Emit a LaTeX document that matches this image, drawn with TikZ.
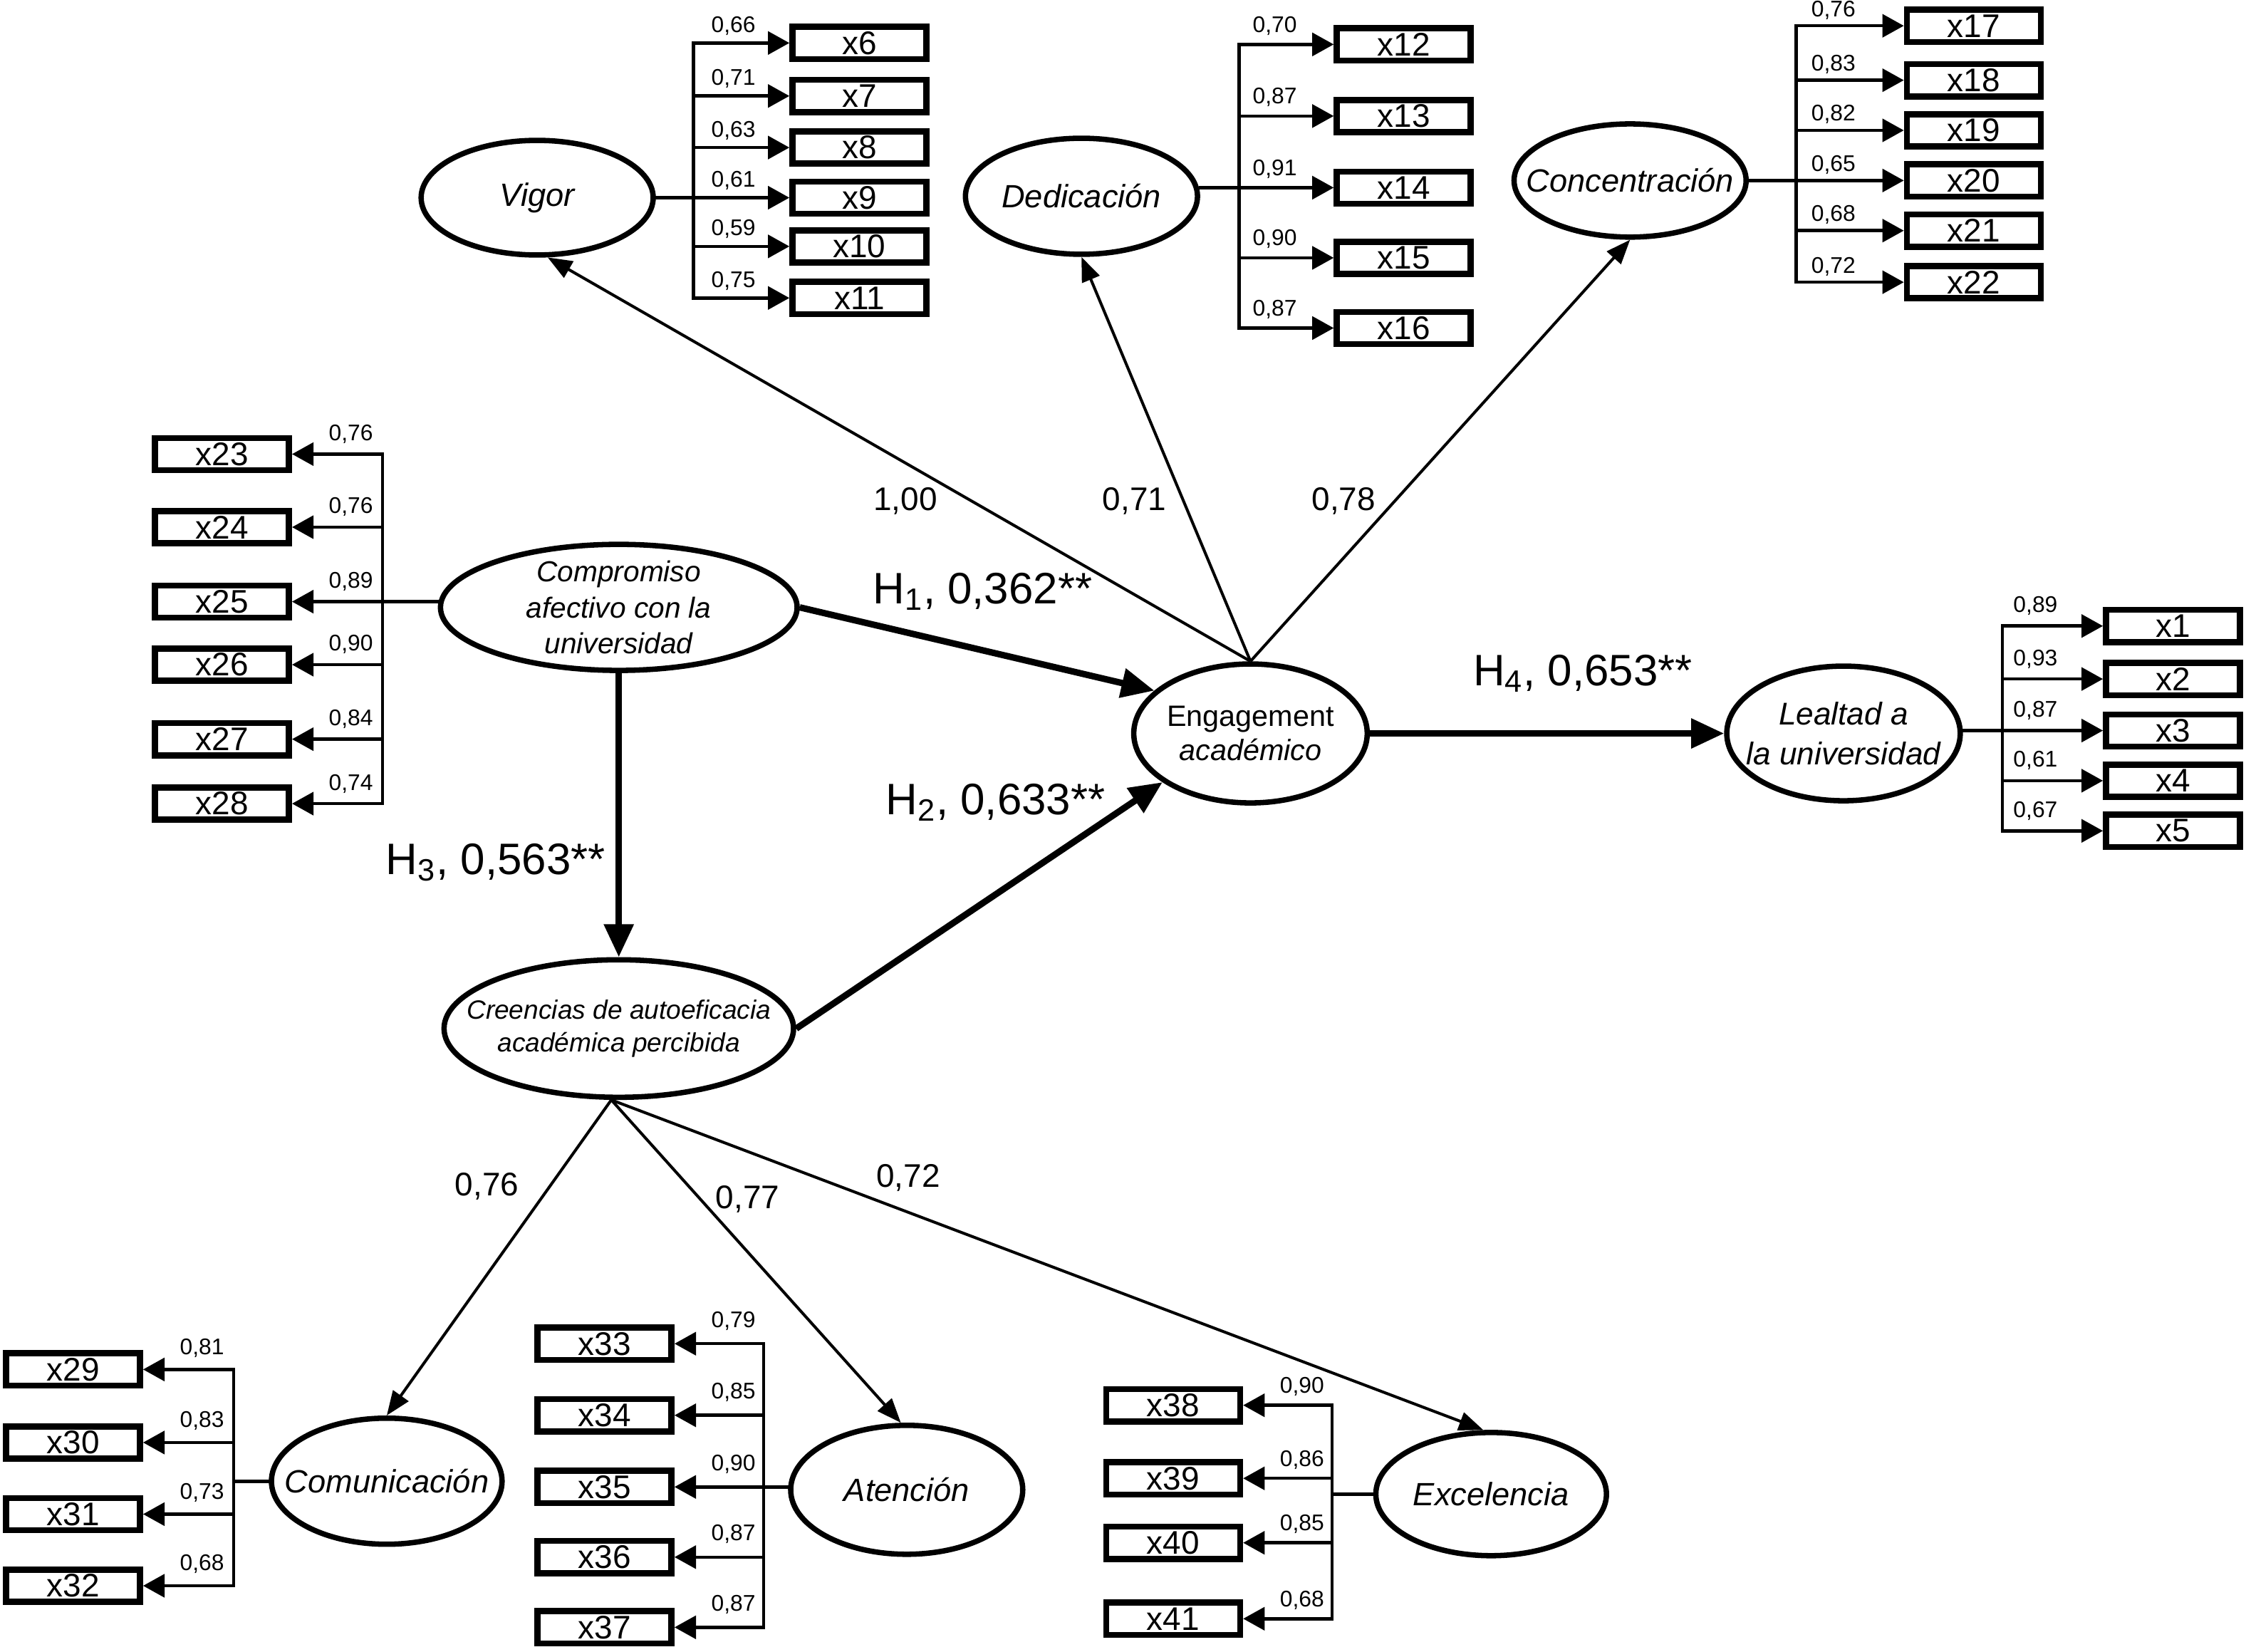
\documentclass[tikz,border=0pt]{standalone}
\usepackage{fontspec}
\setmainfont{Liberation Sans}
\usepackage{tikz}
\usetikzlibrary{arrows.meta, shapes.geometric}
\tikzset{
  lat/.style={ellipse, draw, line width=0.75mm, inner xsep=-8mm, inner ysep=-3mm, align=center, font=\itshape\fontsize{12.8}{14}\selectfont},
  obs/.style={rectangle, draw, line width=0.85mm, minimum width=18.7mm, minimum height=4.5mm, inner sep=0pt, font=\fontsize{13}{14}\selectfont},
  ind/.style={line width=0.45mm, -{Triangle[length=3mm, width=3.2mm]}},
  trk/.style={line width=0.45mm, line cap=rect},
  ld/.style={inner sep=0pt, font=\fontsize{9}{10}\selectfont},
  fac/.style={line width=0.4mm, -{Triangle[length=3.4mm, width=2.6mm]}},
  hyp/.style={line width=0.9mm, -{Triangle[length=4.6mm, width=4mm]}},
  fl/.style={inner sep=0pt, font=\fontsize{13}{14}\selectfont},
  hl/.style={inner sep=0pt, font=\fontsize{17.5}{19}\selectfont}
}

\begin{document}
\begin{tikzpicture}[x=0.2mm, y=-0.2mm]
\useasboundingbox (0,0) rectangle (1568,1153);

% latent variables
\node[lat, minimum width=32.4mm, minimum height=16mm] (vig) at (375,138) {Vigor};
\node[lat, minimum width=32.4mm, minimum height=16.2mm] (ded) at (755,137) {Dedicación};
\node[lat, minimum width=32.4mm, minimum height=15.8mm] (con) at (1138,126) {Concentración};
\node[lat, minimum width=49.8mm, minimum height=17.6mm, font=\itshape\fontsize{11.5}{14.2}\selectfont] (comp) at (432,424) {Compromiso\\afectivo con la\\universidad};
\node[lat, minimum width=32.6mm, minimum height=19.4mm, font=\itshape\fontsize{11.7}{13.7}\selectfont] (eng) at (873,512) {\upshape Engagement\\académico};
\node[lat, minimum width=32.6mm, minimum height=18.8mm, font=\itshape\fontsize{12.5}{16}\selectfont] (lea) at (1287,512) {Lealtad a\\la universidad};
\node[lat, minimum width=48.8mm, minimum height=19.2mm, font=\itshape\fontsize{10.5}{13}\selectfont] (cre) at (432,718) {Creencias de autoeficacia\\académica percibida};
\node[lat, minimum width=32.2mm, minimum height=17.6mm] (comu) at (270,1034) {Comunicación};
\node[lat, minimum width=32.4mm, minimum height=18mm] (ate) at (633,1040) {Atención};
\node[lat, minimum width=32.2mm, minimum height=17.2mm] (exc) at (1041,1043) {Excelencia};

% Vigor
\coordinate (vtr) at (484,0);
\foreach \n/\y/\l in {6/30/{0,66}, 7/67/{0,71}, 8/103/{0,63}, 9/138/{0,61}, 10/172/{0,59}, 11/208/{0,75}} {
  \node[obs] (x\n) at (600,\y) {x\n};
  \draw[ind] (x\n.west -| vtr) -- (x\n.west);
  \node[ld] at (512,\y-12) {\l};
}
\draw[trk] (x6.west -| vtr) -- (x11.west -| vtr);
\draw[trk] (vig.east) -- (vig.east -| vtr);

% Dedicacion
\coordinate (dtr) at (865,0);
\foreach \n/\y/\l in {12/31/{0,70}, 13/81/{0,87}, 14/131/{0,91}, 15/180/{0,90}, 16/229/{0,87}} {
  \node[obs] (x\n) at (980,\y) {x\n};
  \draw[ind] (x\n.west -| dtr) -- (x\n.west);
  \node[ld] at (890,\y-13) {\l};
}
\draw[trk] (x12.west -| dtr) -- (x16.west -| dtr);
\draw[trk] (x14.west -| ded.east) -- (x14.west -| dtr);

% Concentracion
\coordinate (ktr) at (1254,0);
\foreach \n/\y/\l in {17/18/{0,76}, 18/56/{0,83}, 19/91/{0,82}, 20/126/{0,65}, 21/161/{0,68}, 22/197/{0,72}} {
  \node[obs] (x\n) at (1378,\y) {x\n};
  \draw[ind] (x\n.west -| ktr) -- (x\n.west);
  \node[ld] at (1280,\y-11) {\l};
}
\draw[trk] (x17.west -| ktr) -- (x22.west -| ktr);
\draw[trk] (con.east) -- (con.east -| ktr);

% Compromiso afectivo
\coordinate (ctr) at (267,0);
\foreach \n/\y/\l in {23/317/{0,76}, 24/368/{0,76}, 25/420/{0,89}, 26/464/{0,90}, 27/516/{0,84}, 28/561/{0,74}} {
  \node[obs] (x\n) at (155,\y) {x\n};
  \draw[ind] (x\n.east -| ctr) -- (x\n.east);
  \node[ld] at (245,\y-14) {\l};
}
\draw[trk] (x23.east -| ctr) -- (x28.east -| ctr);
\draw[trk] (x25.east -| comp.west) -- (x25.east -| ctr);

% Lealtad
\coordinate (ltr) at (1398,0);
\foreach \n/\y/\l in {1/437/{0,89}, 2/474/{0,93}, 3/510/{0,87}, 4/545/{0,61}, 5/580/{0,67}} {
  \node[obs] (x\n) at (1517,\y) {x\n};
  \draw[ind] (x\n.west -| ltr) -- (x\n.west);
  \node[ld] at (1421,\y-14) {\l};
}
\draw[trk] (x1.west -| ltr) -- (x5.west -| ltr);
\draw[trk] (x3.west -| lea.east) -- (x3.west -| ltr);

% Comunicacion
\coordinate (mtr) at (163,0);
\foreach \n/\y/\l in {29/956/{0,81}, 30/1007/{0,83}, 31/1057/{0,73}, 32/1107/{0,68}} {
  \node[obs] (x\n) at (51,\y) {x\n};
  \draw[ind] (x\n.east -| mtr) -- (x\n.east);
  \node[ld] at (141,\y-15) {\l};
}
\draw[trk] (x29.east -| mtr) -- (x32.east -| mtr);
\draw[trk] (comu.west) -- (comu.west -| mtr);

% Atencion
\coordinate (atr) at (533,0);
\foreach \n/\y/\l in {33/938/{0,79}, 34/988/{0,85}, 35/1038/{0,90}, 36/1087/{0,87}, 37/1136/{0,87}} {
  \node[obs] (x\n) at (422,\y) {x\n};
  \draw[ind] (x\n.east -| atr) -- (x\n.east);
  \node[ld] at (512,\y-16) {\l};
}
\draw[trk] (x33.east -| atr) -- (x37.east -| atr);
\draw[trk] (x35.east -| ate.west) -- (x35.east -| atr);

% Excelencia
\coordinate (etr) at (930,0);
\foreach \n/\y/\l in {38/981/{0,90}, 39/1032/{0,86}, 40/1077/{0,85}, 41/1130/{0,68}} {
  \node[obs] (x\n) at (819,\y) {x\n};
  \draw[ind] (x\n.east -| etr) -- (x\n.east);
  \node[ld] at (909,\y-13) {\l};
}
\draw[trk] (x38.east -| etr) -- (x41.east -| etr);
\draw[trk] (exc.west) -- (exc.west -| etr);

% second order loadings
\draw[fac] (eng.north) -- (vig.-80);
\draw[fac] (eng.north) -- (ded.south);
\draw[fac] (eng.north) -- (con.south);
\draw[fac] (cre.-96) -- (comu.north);
\draw[fac] (cre.-96) -- (ate.95);
\draw[fac] (cre.-96) -- (exc.97);
\node[fl] at (632,350) {1,00};
\node[fl] at (792,350) {0,71};
\node[fl] at (938,350) {0,78};
\node[fl] at (340,828) {0,76};
\node[fl] at (522,837) {0,77};
\node[fl] at (634,822) {0,72};

% hypotheses
\draw[hyp] (comp.east) -- (eng.156);
\draw[hyp] (comp.south) -- (cre.north);
\draw[hyp] (cre.east) -- (eng.209);
\draw[hyp] (eng) -- (lea);
\node[hl] at (686,413) {H\textsubscript{1}, 0,362**};
\node[hl] at (346,602) {H\textsubscript{3}, 0,563**};
\node[hl] at (695,560) {H\textsubscript{2}, 0,633**};
\node[hl] at (1105,470) {H\textsubscript{4}, 0,653**};

\end{tikzpicture}
\end{document}
